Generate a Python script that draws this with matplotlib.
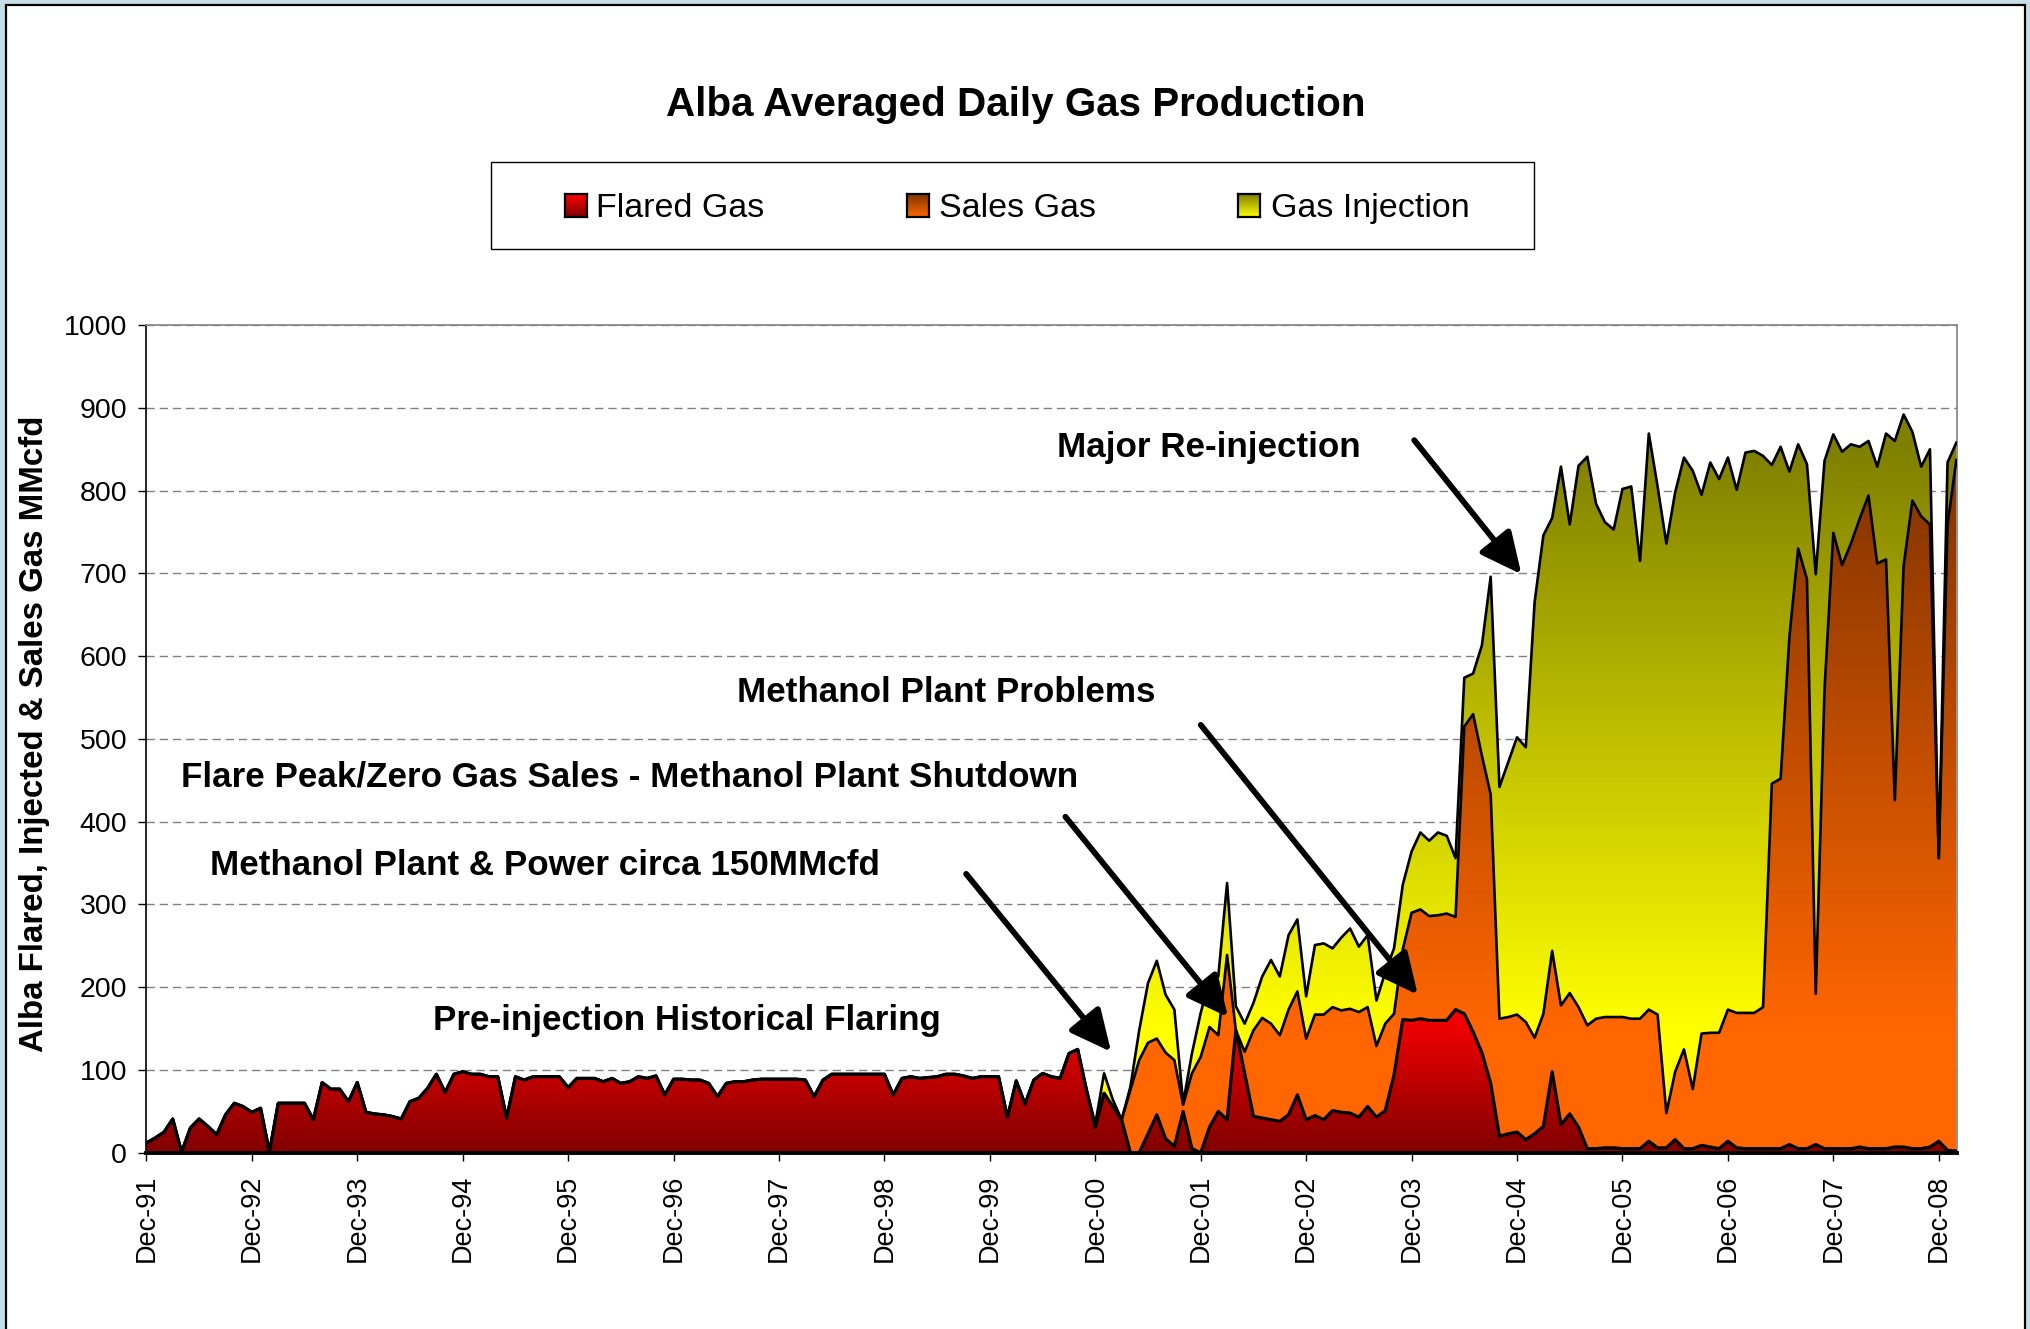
import numpy as np
import pandas as pd
import matplotlib
matplotlib.use("Agg")
import matplotlib.pyplot as plt
from matplotlib.patches import Rectangle

plt.rcParams['font.family'] = ['Liberation Sans', 'DejaVu Sans']

# monthly averages, Dec-91 .. Feb-09 (MMcfd)
months = pd.date_range('1991-12-01', periods=207, freq='MS')

flared = [12, 18, 25, 41, 1, 30, 41, 32, 22, 46, 60, 56,
          49, 54, 1, 60, 60, 60, 60, 40, 85, 77, 77, 62,
          85, 49, 47, 46, 44, 41, 62, 66, 78, 95, 73, 95,
          98, 95, 95, 92, 92, 42, 92, 88, 92, 92, 92, 92,
          79, 90, 90, 90, 86, 90, 84, 86, 92, 90, 93, 70,
          89, 89, 88, 88, 84, 68, 84, 86, 86, 88, 89, 89,
          89, 89, 89, 88, 68, 88, 95, 95, 95, 95, 95, 95,
          95, 70, 90, 92, 90, 91, 92, 95, 95, 93, 90, 92,
          92, 92, 43, 87, 59, 88, 96, 92, 90, 120, 125, 76,
          31, 72, 56, 40, 0, 0, 23, 46, 17, 8, 50, 5,
          0, 31, 50, 40, 148, 96, 44, 42, 40, 38, 46, 70,
          40, 45, 40, 51, 49, 48, 43, 56, 43, 51, 94, 161,
          160, 162, 160, 160, 160, 173, 168, 146, 121, 84, 20, 23,
          25, 16, 23, 32, 98, 34, 47, 31, 5, 5, 6, 6,
          5, 5, 5, 14, 6, 6, 16, 5, 5, 9, 7, 5,
          14, 6, 5, 5, 5, 5, 5, 10, 5, 5, 10, 5,
          5, 5, 5, 7, 5, 5, 5, 7, 7, 5, 5, 7,
          14, 3, 2]

sales = [0] * 112 + [
          76, 112, 110, 92, 104, 104, 8, 91,
          116, 121, 92, 199, 0, 26, 104, 121, 116, 104, 127, 125,
          98, 122, 127, 125, 123, 126, 127, 120, 86, 105, 74, 85,
          130, 132, 126, 127, 129, 112, 347, 384, 359, 349, 142, 141,
          142, 142, 116, 136, 146, 144, 146, 145, 149, 157, 158, 158,
          159, 157, 157, 159, 161, 42, 82, 120, 72, 135, 138, 140,
          159, 163, 164, 164, 171, 441, 447, 613, 725, 688, 182, 555,
          744, 705, 731, 759, 789, 707, 712, 419, 702, 783, 764, 752,
          342, 756, 835]

injection = [0] * 108 + [
          4, 24, 8, 0, 4, 36, 72, 94, 70, 61, 2, 24,
          53, 57, 71, 87, 29, 34, 33, 50, 77, 71, 90, 87,
          51, 84, 86, 71, 88, 97, 79, 87, 55, 62, 79, 78,
          74, 93, 91, 100, 94, 71, 59, 49, 133, 263, 280, 308,
          335, 332, 526, 578, 523, 651, 566, 654, 687, 622, 598, 589,
          638, 643, 553, 696, 638, 688, 700, 715, 747, 651, 689, 669,
          667, 632, 677, 679, 666, 385, 401, 200, 126, 139, 507, 276,
          119, 137, 120, 87, 66, 117, 152, 434, 183, 83, 60, 91,
          0, 75, 21]

labels = ['Flared Gas', 'Sales Gas', 'Gas Injection']

W, H = 2031, 1329
def fx(px):
    return px / W
def fy(py):
    return 1 - py / H

fig = plt.figure(figsize=(W / 100, H / 100), dpi=100)
fig.patch.set_facecolor('#c5dee7')
fig.patches.append(Rectangle((fx(6), -0.01), fx(2025) - fx(6), fy(4.5) + 0.01,
                             transform=fig.transFigure, facecolor='white',
                             edgecolor='black', lw=1.6, zorder=-2))

ax = fig.add_axes([fx(146.4), fy(1152.8), fx(1957.2) - fx(146.4), fy(325.1) - fy(1152.8)])
ax.set_facecolor('white')

x = np.arange(len(months))
f = np.array(flared, float)
s = np.array(sales, float)
inj = np.array(injection, float)
fs = f + s
tot = fs + inj


def grad_area(lower, upper, c_lo, c_hi, v_lo, v_hi, z):
    poly = ax.fill_between(x, lower, upper, facecolor='none', edgecolor='none')
    vals = np.linspace(0, 1000, 600)
    t = np.clip((vals - v_lo) / (v_hi - v_lo), 0, 1)[:, None]
    rgb = (1 - t) * np.array(c_lo) / 255 + t * np.array(c_hi) / 255
    im = ax.imshow(rgb[:, None, :], extent=[x[0], x[-1], 0, 1000], origin='lower',
                   aspect='auto', interpolation='bilinear', zorder=z)
    im.set_clip_path(poly.get_paths()[0], transform=ax.transData)


grad_area(np.zeros_like(f), f, (128, 0, 0), (255, 0, 0), 0, 175, 2)
grad_area(f, fs, (255, 102, 0), (128, 51, 0), 150, 840, 2)
grad_area(fs, tot, (255, 255, 0), (128, 128, 0), 150, 850, 2)

ax.plot(x, tot, color='black', lw=1.9, zorder=4)
ax.plot(x, fs, color='black', lw=1.9, zorder=4)
ax.plot(x, f, color='black', lw=2.3, zorder=5)

ax.set_xlim(0, 206.1)
ax.set_ylim(0, 1000)
ax.set_yticks(range(0, 1001, 100))
ax.set_xticks(x[::12])
ax.set_xticklabels(months[::12].strftime('%b-%y'), rotation=90)
ax.tick_params(axis='both', direction='out', length=5.8, width=1.0, colors='black')
ax.tick_params(axis='y', labelsize=20.5, pad=8)
ax.tick_params(axis='x', labelsize=19.5, pad=10)

ax.yaxis.grid(True, color='#808080', lw=1.0, ls=(0, (6, 3.5)), zorder=1)
ax.set_axisbelow(True)
for side in ['top', 'right']:
    ax.spines[side].set_color('#8a8a8a')
    ax.spines[side].set_linewidth(1.3)
ax.spines['left'].set_linewidth(1.2)
ax.spines['bottom'].set_linewidth(2.8)
ax.spines['bottom'].set_zorder(6)

fig.text(fx(35), fy(734), 'Alba Flared, Injected & Sales Gas MMcfd', rotation=90,
         ha='center', va='center', fontsize=23.8, fontweight='bold')

fig.text(fx(1015.5), fy(116.5), 'Alba Averaged Daily Gas Production', ha='center',
         va='baseline', fontsize=29.1, fontweight='bold')

# legend
fig.patches.append(Rectangle((fx(491), fy(249)), fx(1534) - fx(491), fy(162) - fy(249),
                             transform=fig.transFigure, facecolor='white',
                             edgecolor='black', lw=1.0, zorder=-1))
leg_colors = [((128, 0, 0), (255, 0, 0)), ((255, 102, 0), (128, 51, 0)),
              ((255, 255, 0), (128, 128, 0))]
leg_boxes = [565, 907, 1238]
leg_text = [596, 939, 1271]
for (c0, c1), bx, tx, lab in zip(leg_colors, leg_boxes, leg_text, labels):
    lax = fig.add_axes([fx(bx), fy(217), fx(22), fy(194) - fy(217)])
    t = np.linspace(0, 1, 50)[:, None]
    rgb = (1 - t) * np.array(c0) / 255 + t * np.array(c1) / 255
    lax.imshow(rgb[:, None, :], origin='lower', aspect='auto', extent=[0, 1, 0, 1])
    lax.set_xticks([])
    lax.set_yticks([])
    for sp in lax.spines.values():
        sp.set_linewidth(1.6)
    fig.text(fx(tx), fy(217), lab, ha='left', va='baseline', fontsize=24.5)

# annotations
notes = [('Major Re-injection', 103.6, 841),
         ('Methanol Plant Problems', 67.2, 545),
         ('Flare Peak/Zero Gas Sales - Methanol Plant Shutdown', 3.9, 442),
         ('Methanol Plant & Power circa 150MMcfd', 7.2, 336),
         ('Pre-injection Historical Flaring', 32.6, 148)]
for txt, nx, ny in notes:
    ax.text(nx, ny, txt, ha='left', va='baseline', fontsize=25.2, fontweight='bold', zorder=7)

arrows = [((144.3, 861), (156.5, 699)),
          ((120.0, 517), (144.7, 191)),
          ((104.6, 406), (123.1, 164)),
          ((93.3, 337), (109.8, 122))]
for tail, head in arrows:
    ax.annotate('', xy=head, xytext=tail, zorder=8,
                arrowprops=dict(arrowstyle='-|>,head_length=1.25,head_width=0.6',
                                lw=4.2, color='black', mutation_scale=20,
                                shrinkA=0, shrinkB=0))

fig.savefig('out.png', dpi=100, facecolor=fig.get_facecolor())
